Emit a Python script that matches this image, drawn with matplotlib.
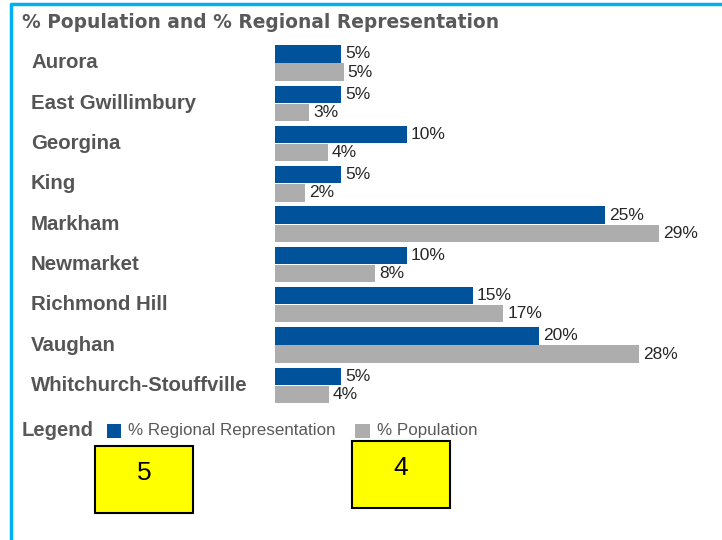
import numpy as np
from matplotlib import pyplot as plt
from matplotlib.lines import Line2D
from matplotlib.patches import Rectangle

# data
towns = ['Aurora', 'East Gwillimbury', 'Georgina', 'King', 'Markham',
         'Newmarket', 'Richmond Hill', 'Vaughan', 'Whitchurch-Stouffville']
regional = [5, 5, 10, 5, 25, 10, 15, 20, 5]
population = [5.2, 2.6, 4.0, 2.3, 29.1, 7.6, 17.3, 27.6, 4.1]
box_values = ['5', '4']

blue = '#00529B'
grey = '#ADADAD'
text_grey = '#595959'

W, H = 722, 540
fig = plt.figure(figsize=(W / 100, H / 100), dpi=100)

# bar axes: x origin at 275px, rows 40.3px apart
top_px, bot_px = 42.85, 405.5
ax = fig.add_axes([275 / W, 1 - bot_px / H, 435.6 / W, (bot_px - top_px) / H])
y = np.arange(len(towns))
h = 0.43
ax.barh(y - 0.225, regional, height=h, color=blue)
ax.barh(y + 0.225, population, height=h, color=grey)
ax.set_xlim(0, 33)
ax.set_ylim(len(towns) - 0.5, -0.5)
ax.axis('off')

for i in range(len(towns)):
    ax.text(regional[i] + 0.3, y[i] - 0.225, f'{regional[i]:.0f}%', va='center', ha='left',
            fontsize=12.5, family='Liberation Sans', color='#262626')
    ax.text(population[i] + 0.3, y[i] + 0.225, f'{population[i]:.0f}%', va='center', ha='left',
            fontsize=12.5, family='Liberation Sans', color='#262626')
    # category label, left side of the figure
    fig.text(31 / W, 1 - (63 + 40.3 * i) / H, towns[i], ha='left', va='center',
             fontsize=14.7, fontweight='bold', family='Liberation Sans', color='#555555')

# title
fig.text(22 / W, 1 - 22 / H, '% Population and % Regional Representation', ha='left', va='center',
         fontsize=13.4, fontweight='bold', family='DejaVu Sans', color=text_grey)

# legend row
fig.text(22 / W, 1 - 431 / H, 'Legend', ha='left', va='center', fontsize=14.6,
         fontweight='bold', family='Liberation Sans', color=text_grey)
fig.add_artist(Rectangle((107 / W, 1 - 438 / H), 14 / W, 14 / H, transform=fig.transFigure,
                         facecolor=blue, edgecolor='none'))
fig.text(128 / W, 1 - 431 / H, '% Regional Representation', ha='left', va='center',
         fontsize=12.25, family='Liberation Sans', color=text_grey)
fig.add_artist(Rectangle((355 / W, 1 - 438 / H), 15 / W, 14 / H, transform=fig.transFigure,
                         facecolor=grey, edgecolor='none'))
fig.text(377 / W, 1 - 431 / H, '% Population', ha='left', va='center',
         fontsize=12.25, family='Liberation Sans', color=text_grey)

# yellow boxes
boxes = [(95, 446, 98, 67), (352, 441, 98, 67)]
for (bx, by, bw, bh), val in zip(boxes, box_values):
    fig.add_artist(Rectangle((bx / W, 1 - (by + bh) / H), bw / W, bh / H, transform=fig.transFigure,
                             facecolor='#FFFF00', edgecolor='black', linewidth=1.5))
    fig.text((bx + bw / 2) / W, 1 - (by + 27) / H, val, ha='center', va='center',
             fontsize=19, family='Liberation Sans', color='black')

# light blue frame on the top and left
fig.add_artist(Line2D([10 / W, 1], [1 - 3.5 / H, 1 - 3.5 / H], color='#00B0F0', linewidth=2.5,
                      solid_capstyle='butt'))
fig.add_artist(Line2D([10.5 / W, 10.5 / W], [0, 1 - 2.5 / H], color='#00B0F0', linewidth=2.5,
                      solid_capstyle='butt'))

fig.savefig('out.png', dpi=100)
